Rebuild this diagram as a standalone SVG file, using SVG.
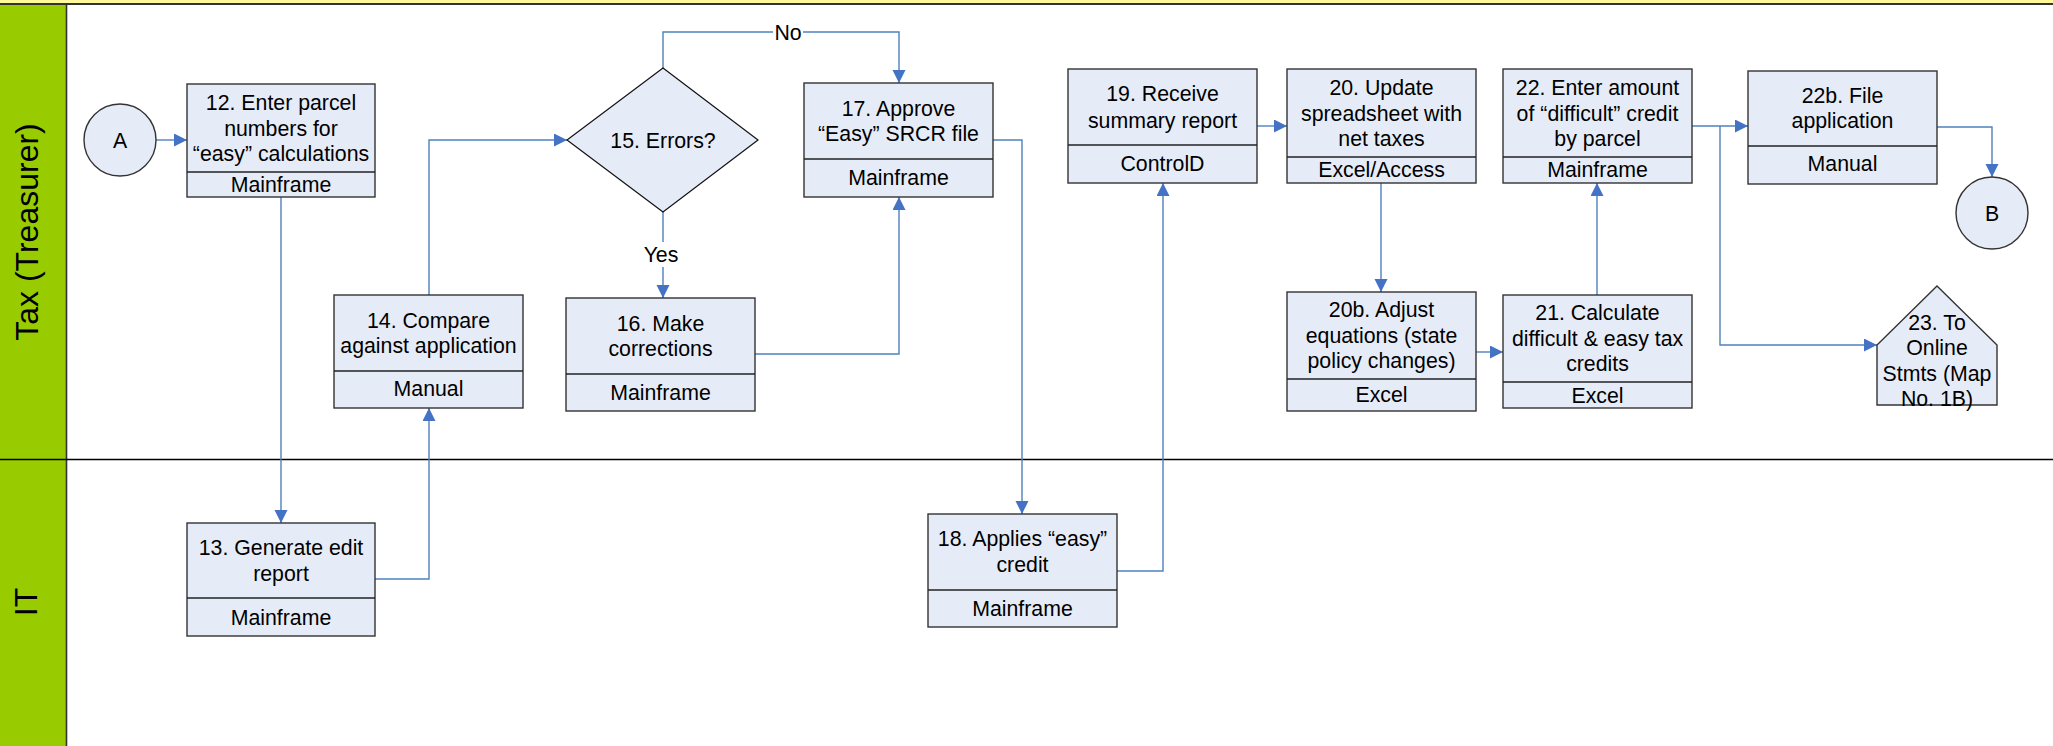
<svg xmlns="http://www.w3.org/2000/svg" width="2053" height="746" viewBox="0 0 2053 746">
<style>
.box{fill:#E6ECF7;stroke:#333;stroke-width:1.4}
.div{stroke:#222;stroke-width:1.6}
.t{font-family:"Liberation Sans",Arial,sans-serif;font-size:21.3px;fill:#000;text-anchor:middle}
.lane{font-family:"Liberation Sans",Arial,sans-serif;font-size:32px;fill:#000;text-anchor:middle}
.c{fill:none;stroke:#4F81BD;stroke-width:1.4}
</style>
<defs>
<marker id="ah" markerUnits="userSpaceOnUse" markerWidth="14" markerHeight="14" refX="13" refY="6.5" orient="auto">
<path d="M0,0 L13,6.5 L0,13 z" fill="#4472C4"/>
</marker>
</defs>
<rect x="0" y="0" width="2053" height="746" fill="#fff"/>
<g id="lanes">
<rect x="0" y="0" width="2053" height="4" fill="#FFF99A"/>
<rect x="0" y="4" width="66" height="742" fill="#99CC00"/>
<line x1="0" y1="4" x2="2053" y2="4" stroke="#333" stroke-width="1.8"/>
<line x1="66.5" y1="4" x2="66.5" y2="746" stroke="#333" stroke-width="1.6"/>
<line x1="0" y1="459.5" x2="2053" y2="459.5" stroke="#000" stroke-width="1.5"/>
<text class="lane" transform="translate(38,232) rotate(-90)">Tax (Treasurer)</text>
<text class="lane" transform="translate(37,602) rotate(-90)">IT</text>
</g>
<g id="connectors">
<path class="c" d="M156,140 H187" marker-end="url(#ah)"/>
<path class="c" d="M281,197 V523" marker-end="url(#ah)"/>
<path class="c" d="M375,579 H429 V408" marker-end="url(#ah)"/>
<path class="c" d="M429,295 V140 H567" marker-end="url(#ah)"/>
<path class="c" d="M663,68 V32 H899 V83" marker-end="url(#ah)"/>
<path class="c" d="M663,212 V298" marker-end="url(#ah)"/>
<path class="c" d="M755,354 H899 V197" marker-end="url(#ah)"/>
<path class="c" d="M993,140 H1022 V514" marker-end="url(#ah)"/>
<path class="c" d="M1117,571 H1163 V183" marker-end="url(#ah)"/>
<path class="c" d="M1257,126 H1287" marker-end="url(#ah)"/>
<path class="c" d="M1381,183 V292" marker-end="url(#ah)"/>
<path class="c" d="M1476,352 H1503" marker-end="url(#ah)"/>
<path class="c" d="M1597,295 V183" marker-end="url(#ah)"/>
<path class="c" d="M1692,126 H1748" marker-end="url(#ah)"/>
<path class="c" d="M1720,126 V345 H1877" marker-end="url(#ah)"/>
<path class="c" d="M1937,127 H1992 V177" marker-end="url(#ah)"/>
<rect x="773" y="21" width="30" height="22" fill="#fff"/>
<text class="t" x="788" y="39.5">No</text>
<rect x="643" y="242" width="38" height="25" fill="#fff"/>
<text class="t" x="661" y="261.5">Yes</text>
</g>
<g id="nA">
<circle cx="120" cy="140" r="36" class="box"/>
<text class="t" x="120" y="147.5">A</text>
</g>
<g id="n12">
<rect class="box" x="187" y="84" width="188" height="113"/>
<line class="div" x1="187" y1="172" x2="375" y2="172"/>
<text class="t" x="281" y="110">12. Enter parcel</text>
<text class="t" x="281" y="135.5">numbers for</text>
<text class="t" x="281" y="161">“easy” calculations</text>
<text class="t" x="281" y="192">Mainframe</text>
</g>
<g id="n13">
<rect class="box" x="187" y="523" width="188" height="113"/>
<line class="div" x1="187" y1="598" x2="375" y2="598"/>
<text class="t" x="281" y="555">13. Generate edit</text>
<text class="t" x="281" y="581">report</text>
<text class="t" x="281" y="625">Mainframe</text>
</g>
<g id="n14">
<rect class="box" x="334" y="295" width="189" height="113"/>
<line class="div" x1="334" y1="371" x2="523" y2="371"/>
<text class="t" x="428.5" y="328">14. Compare</text>
<text class="t" x="428.5" y="353">against application</text>
<text class="t" x="428.5" y="396">Manual</text>
</g>
<g id="n15">
<polygon class="box" points="663,68 758,140 663,212 567,140" style="stroke:#111;stroke-width:1.2"/>
<text class="t" x="663" y="147.5">15. Errors?</text>
</g>
<g id="n16">
<rect class="box" x="566" y="298" width="189" height="113"/>
<line class="div" x1="566" y1="374" x2="755" y2="374"/>
<text class="t" x="660.5" y="331">16. Make</text>
<text class="t" x="660.5" y="356">corrections</text>
<text class="t" x="660.5" y="400">Mainframe</text>
</g>
<g id="n17">
<rect class="box" x="804" y="83" width="189" height="114"/>
<line class="div" x1="804" y1="159" x2="993" y2="159"/>
<text class="t" x="898.5" y="116">17. Approve</text>
<text class="t" x="898.5" y="141">“Easy” SRCR file</text>
<text class="t" x="898.5" y="185">Mainframe</text>
</g>
<g id="n18">
<rect class="box" x="928" y="514" width="189" height="113"/>
<line class="div" x1="928" y1="590" x2="1117" y2="590"/>
<text class="t" x="1022.5" y="546">18. Applies “easy”</text>
<text class="t" x="1022.5" y="572">credit</text>
<text class="t" x="1022.5" y="616">Mainframe</text>
</g>
<g id="n19">
<rect class="box" x="1068" y="69" width="189" height="114"/>
<line class="div" x1="1068" y1="145" x2="1257" y2="145"/>
<text class="t" x="1162.5" y="101">19. Receive</text>
<text class="t" x="1162.5" y="128">summary report</text>
<text class="t" x="1162.5" y="171">ControlD</text>
</g>
<g id="n20">
<rect class="box" x="1287" y="69" width="189" height="114"/>
<line class="div" x1="1287" y1="157" x2="1476" y2="157"/>
<text class="t" x="1381.5" y="95">20. Update</text>
<text class="t" x="1381.5" y="121">spreadsheet with</text>
<text class="t" x="1381.5" y="146">net taxes</text>
<text class="t" x="1381.5" y="177">Excel/Access</text>
</g>
<g id="n20b">
<rect class="box" x="1287" y="292" width="189" height="119"/>
<line class="div" x1="1287" y1="379" x2="1476" y2="379"/>
<text class="t" x="1381.5" y="317">20b. Adjust</text>
<text class="t" x="1381.5" y="343">equations (state</text>
<text class="t" x="1381.5" y="368">policy changes)</text>
<text class="t" x="1381.5" y="402">Excel</text>
</g>
<g id="n21">
<rect class="box" x="1503" y="295" width="189" height="113"/>
<line class="div" x1="1503" y1="382" x2="1692" y2="382"/>
<text class="t" x="1597.5" y="320">21. Calculate</text>
<text class="t" x="1597.5" y="346">difficult &amp; easy tax</text>
<text class="t" x="1597.5" y="371">credits</text>
<text class="t" x="1597.5" y="403">Excel</text>
</g>
<g id="n22">
<rect class="box" x="1503" y="69" width="189" height="114"/>
<line class="div" x1="1503" y1="157" x2="1692" y2="157"/>
<text class="t" x="1597.5" y="95">22. Enter amount</text>
<text class="t" x="1597.5" y="121">of “difficult” credit</text>
<text class="t" x="1597.5" y="146">by parcel</text>
<text class="t" x="1597.5" y="177">Mainframe</text>
</g>
<g id="n22b">
<rect class="box" x="1748" y="71" width="189" height="113"/>
<line class="div" x1="1748" y1="146" x2="1937" y2="146"/>
<text class="t" x="1842.5" y="103">22b. File</text>
<text class="t" x="1842.5" y="128">application</text>
<text class="t" x="1842.5" y="171">Manual</text>
</g>
<g id="nB">
<circle cx="1992" cy="213" r="36" class="box"/>
<text class="t" x="1992" y="220.5">B</text>
</g>
<g id="n23">
<polygon class="box" points="1937,286 1997,345 1997,405 1877,405 1877,345"/>
<text class="t" x="1937" y="330">23. To</text>
<text class="t" x="1937" y="355">Online</text>
<text class="t" x="1937" y="381">Stmts (Map</text>
<text class="t" x="1937" y="406">No. 1B)</text>
</g>
</svg>
